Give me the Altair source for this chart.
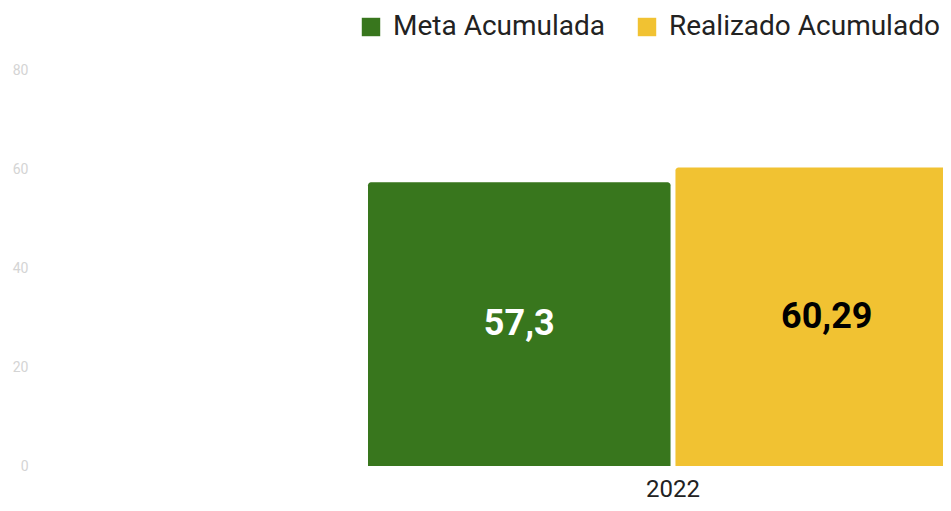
import altair as alt
import pandas as pd

years = ["2022", "2022"]
series = ["Meta Acumulada", "Realizado Acumulado"]
values = [57.3, 60.29]
colors = ["#38761d", "#f1c232"]
label_colors = ["#ffffff", "#000000"]

df = pd.DataFrame({"ano": years, "serie": series, "valor": values, "lc": label_colors})
df["rotulo"] = [str(v).replace(".", ",") for v in values]

x = alt.X("ano:N", title=None,
          scale=alt.Scale(range=[330, 940], paddingInner=0, paddingOuter=0),
          axis=alt.Axis(labelAngle=0, labelFont="Roboto", labelFontSize=24, labelColor="#222222",
                        domain=False, ticks=False, labelPadding=11))
xo = alt.XOffset("serie:N", sort=series, scale=alt.Scale(paddingInner=0.016, paddingOuter=0))
y = alt.Y("valor:Q", title=None, stack=None,
          scale=alt.Scale(domain=[0, 80], nice=False),
          axis=alt.Axis(values=[0, 20, 40, 60, 80], labelFont="Roboto", labelFontSize=14,
                        labelColor="#d4d4d4", domain=False, ticks=False, grid=False, labelPadding=10))

bars = alt.Chart(df).mark_bar(cornerRadiusTopLeft=3, cornerRadiusTopRight=3).encode(
    x=x, xOffset=xo, y=y,
    color=alt.Color("serie:N", sort=series, scale=alt.Scale(domain=series, range=colors),
                    legend=alt.Legend(title=None, orient="none", legendX=319, legendY=-57,
                                      direction="horizontal", symbolType="square", symbolSize=340,
                                      symbolStrokeWidth=0, labelFont="Roboto", labelFontSize=28,
                                      labelColor="#222222", labelOffset=8, columnPadding=27,
                                      labelLimit=400))
)

labels = alt.Chart(df).transform_calculate(meio="datum.valor / 2").mark_text(
    font="Roboto", fontSize=36, fontWeight="bold", baseline="middle", align="center"
).encode(
    x=x, xOffset=xo,
    y=alt.Y("meio:Q", scale=alt.Scale(domain=[0, 80], nice=False)),
    text="rotulo:N",
    color=alt.Color("lc:N", scale=None, legend=None),
)

chart = alt.layer(bars, labels).resolve_scale(color="independent").properties(
    width=905, height=396,
    autosize=alt.AutoSizeParams(type="none"),
    padding={"left": 30, "top": 62, "right": 0, "bottom": 37},
    background="#ffffff",
).configure_view(stroke=None)

chart.save("out.html", embed_options={"renderer": "svg", "actions": False})
